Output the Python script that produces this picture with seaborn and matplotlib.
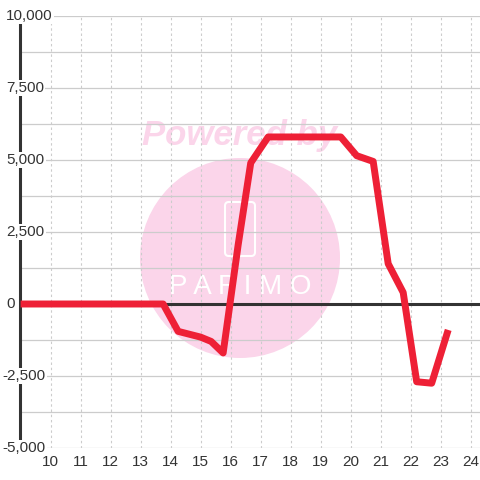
import pandas as pd
import seaborn as sns
import matplotlib.pyplot as plt
from matplotlib.patches import Circle, FancyBboxPatch

# Values
hours = [9.0, 13.75, 14.25, 15.0, 15.35, 15.75, 16.25, 16.67, 17.25, 19.67,
         20.2, 20.75, 21.25, 21.75, 22.2, 22.7, 23.25]
values = [0, 0, -950, -1150, -1300, -1700, 2050, 4900, 5800, 5800,
          5150, 4950, 1400, 400, -2700, -2750, -900]

x_ticks = list(range(10, 25))
y_ticks = [-5000, -2500, 0, 2500, 5000, 7500, 10000]
y_labels = ['-5,000', '-2,500', '0', '2,500', '5,000', '7,500', '10,000']
y_minor = [-3750, -1250, 1250, 3750, 6250, 8750]

data = pd.DataFrame({'hour': hours, 'value': values})

sns.set_theme(style="white")
plt.rcParams['font.family'] = ['Liberation Sans', 'DejaVu Sans']

fig = plt.figure(figsize=(4.8, 4.8), dpi=100)
fig.patch.set_facecolor('white')
ax = fig.add_axes([20 / 480, 32 / 480, 460 / 480, 432 / 480])
ax.set_facecolor('none')

# Watermark behind the axes
pink = '#fbd5ea'
fig.add_artist(Circle((0.5, 1 - 258 / 480), 100 / 480, transform=fig.transFigure,
                      facecolor=pink, edgecolor='none', zorder=-2))
fig.text(0.5, 1 - 135 / 480, 'Powered by', ha='center', va='center', fontsize=25,
         fontweight='bold', fontstyle='italic', color=pink, zorder=-1)
fig.add_artist(FancyBboxPatch((225 / 480, 1 - 256 / 480), 30 / 480, 54 / 480,
                              boxstyle='round,pad=0,rounding_size=0.008',
                              transform=fig.transFigure, facecolor='none',
                              edgecolor='white', linewidth=1.5, zorder=-1))
fig.text(0.5, 1 - 287 / 480, 'P A P I M O', ha='center', va='center', fontsize=20,
         fontweight='light', color='white', zorder=-1)

# Data line
sns.lineplot(data=data, x='hour', y='value', color='#ee2036', linewidth=5,
             ax=ax, zorder=3, solid_capstyle='butt')
ax.axhline(0, color='#333333', linewidth=2.2, zorder=2)

ax.set_xlim(8.98, 24.31)
ax.set_ylim(-5000, 10000)
ax.set_xticks(x_ticks)
ax.set_xticklabels([str(t) for t in x_ticks])
ax.set_yticks(y_ticks)
ax.set_yticks(y_minor, minor=True)
ax.set_yticklabels([])
ax.tick_params(axis='both', which='both', length=0)
ax.tick_params(axis='x', pad=5, labelsize=11, labelcolor='#333333')

ax.grid(axis='x', which='major', color='#cccccc', linestyle=(0, (2.2, 2.5)), linewidth=0.8)
ax.grid(axis='y', which='both', color='#cccccc', linestyle='-', linewidth=0.9)

for side in ['top', 'right', 'bottom']:
    ax.spines[side].set_visible(False)
ax.spines['left'].set_color('#333333')
ax.spines['left'].set_linewidth(2.2)
ax.spines['left'].set_zorder(2.5)

# y labels sit over the axis line with a white background
trans = ax.get_yaxis_transform()
for v, lab in zip(y_ticks, y_labels):
    xpos = (2 - 20) / 460 if lab.startswith('-') else (6 - 20) / 460
    ax.text(xpos, v, lab, transform=trans, ha='left', va='center', fontsize=11,
            color='#333333', zorder=6, clip_on=False,
            bbox=dict(facecolor='white', edgecolor='none', pad=1))

ax.set_xlabel('')
ax.set_ylabel('')
fig.savefig('out.png', dpi=100)
